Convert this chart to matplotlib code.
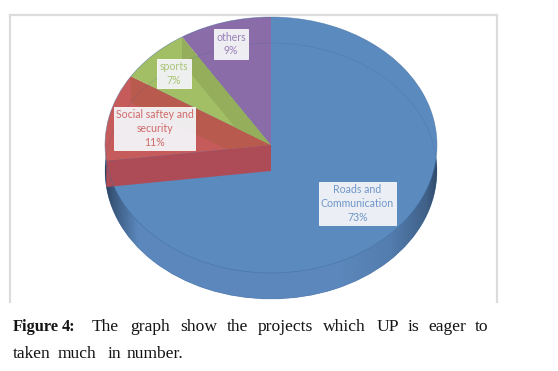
import numpy as np
import matplotlib
matplotlib.use("Agg")
import matplotlib.pyplot as plt
from matplotlib.patches import Polygon, Rectangle, Ellipse
from matplotlib.lines import Line2D

categories = ["Roads and\nCommunication", "Social saftey and\nsecurity", "sports", "others"]
values = [73, 11, 7, 9]
top_colors = ["#5b8abf", "#c65b5b", "#a2bf65", "#8a6ca8"]
wall_colors = ["#5b8abf", "#ad4c57", "#b85a4d", "#94ae5c"]
text_colors = ["#6f97c8", "#d06a68", "#a9c373", "#9a80b8"]
caption_line1 = [("Figure", 13, True), ("4:", 62, True), ("The", 92, False), ("graph", 130, False),
                 ("show", 180, False), ("the", 227, False), ("projects", 258, False), ("which", 323, False),
                 ("UP", 377, False), ("is", 408, False), ("eager", 428, False), ("to", 475, False)]
caption_line2 = [("taken", 13, False), ("much", 58, False), ("in", 108, False), ("number.", 127, False)]

W, H = 558, 371
CX, CY, RX, RY, DEPTH = 271, 145, 166, 128, 26
fig = plt.figure(figsize=(W / 100, H / 100), dpi=100, facecolor="white")
ax = fig.add_axes([0, 0, 1, 1])
dz = DEPTH / RY

# Side of the disc, shaded left-right
side_wedges, _ = ax.pie([1], radius=1, center=(0, -dz), colors=["#5b88bd"], frame=True, wedgeprops=dict(linewidth=0))
xs = np.linspace(-1, 1, 400)
shade = np.interp(xs, [-1, -0.96, -0.8, 0.4, 0.72, 0.94, 1], [0.0, 0.3, 1, 1, 0.85, 0.45, 0.15])
c0, c1 = np.array([0.16, 0.25, 0.36]), np.array([0.357, 0.533, 0.741])
img = (c0[None, :] + (c1 - c0)[None, :] * shade[:, None])[None, :, :]
im = ax.imshow(img, extent=[-1, 1, -1 - dz, 1 - dz], aspect="auto", zorder=1.5)
im.set_clip_path(side_wedges[0])

# Top face
wedges, _ = ax.pie(values, radius=1, startangle=90, counterclock=False, colors=top_colors,
                   frame=True, wedgeprops=dict(linewidth=0, zorder=2))

# Inner walls seen through the translucent slices
fractions = np.cumsum(values) / np.sum(values)
angles = np.deg2rad(90 - 360 * fractions)
def wall(theta, color, clip=None):
    rim = (np.cos(theta), np.sin(theta))
    p = Polygon([(0, 0), rim, (rim[0], rim[1] - dz), (0, -dz)], closed=True, fc=color, ec="none", zorder=3)
    ax.add_patch(p)
    if clip is not None:
        p.set_clip_path(clip)
wall(angles[0], wall_colors[1])
wall(angles[1], wall_colors[2], wedges[1])
wall(angles[2], wall_colors[3], wedges[2])

# Faint outlines of both rims
ax.add_patch(Ellipse((0, 0), 2, 2, fc="none", ec="#3f6a9c", lw=0.5, alpha=0.55, zorder=4))
ax.add_patch(Ellipse((0, -dz), 2, 2, fc="none", ec="#3f5f8f", lw=0.5, alpha=0.25, zorder=4))

ax.set_aspect("auto")
ax.set_xlim((0 - CX) / RX, (W - CX) / RX)
ax.set_ylim((CY - H) / RY, CY / RY)
ax.axis("off")

def fx(x): return x / W
def fy(y): return 1 - y / H

# Frame
for xa, ya, xb, yb in [(10, 15, 497, 15), (10, 15, 10, 302), (497, 15, 497, 302)]:
    fig.add_artist(Line2D([fx(xa), fx(xb)], [fy(ya), fy(yb)], color="#dcdcdc", lw=1.6))

# Data labels
boxes = [(319, 182, 396, 225), (114, 107, 195, 150), (157, 59, 191, 88), (214, 29, 248, 59)]
for name, val, col, (x0, y0, x1, y1) in zip(categories, values, text_colors, boxes):
    fig.add_artist(Rectangle((fx(x0 + 1), fy(y1 + 1)), (x1 - x0) / W, (y1 - y0) / H, transform=fig.transFigure,
                             fc="#40506a", ec="none", alpha=0.18, zorder=5))
    fig.add_artist(Rectangle((fx(x0), fy(y1)), (x1 - x0) / W, (y1 - y0) / H, transform=fig.transFigure,
                             fc="#f4f5f8", ec="#ffffff", lw=0.6, alpha=0.95, zorder=6))
    fig.text(fx((x0 + x1) / 2), fy((y0 + y1) / 2), f"{name}\n{val}%", ha="center", va="center",
             color=col, fontsize=7.6, family="Lato", linespacing=1.3, zorder=7)

# Caption
for line, base in [(caption_line1, 331), (caption_line2, 358)]:
    for word, x, bold in line:
        fig.text(fx(x), fy(base), word, ha="left", va="baseline", family="Liberation Serif",
                 fontsize=11.8 if bold else 12.6,
                 fontweight="bold" if bold else "normal", color="#141414")

fig.savefig("out.png", dpi=100, facecolor="white")
